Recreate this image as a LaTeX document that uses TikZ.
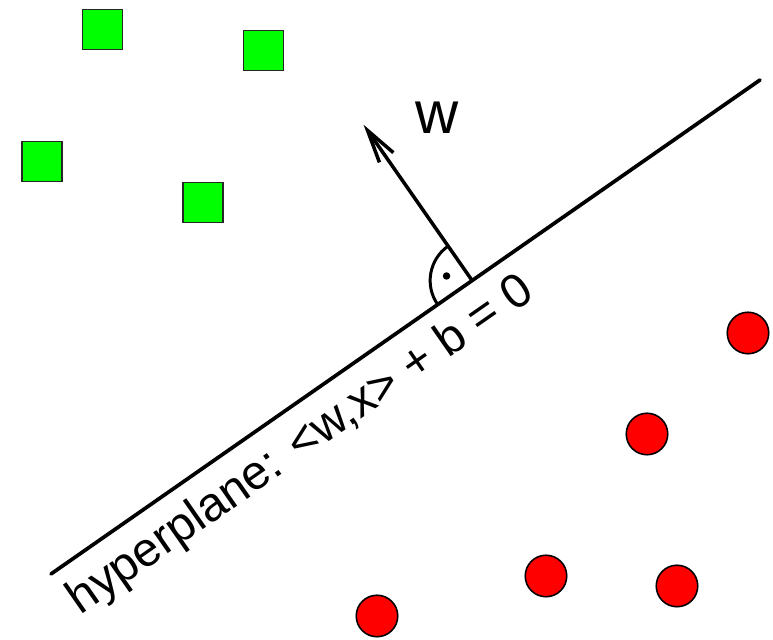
\documentclass[tikz,border=0pt]{standalone}
\usepackage{fontspec}
\setmainfont{Liberation Sans}
\usetikzlibrary{calc,arrows.meta}
\definecolor{PtGreen}{HTML}{00FF00}
\definecolor{PtRed}{HTML}{FF0000}
\definecolor{PtEdge}{HTML}{262626}

\tikzset{
  sqpt/.style={rectangle,draw=PtEdge,line width=0.9pt,fill=PtGreen,minimum size=0.80cm,inner sep=0pt},
  rdpt/.style={circle,draw=black,line width=0.9pt,fill=PtRed,minimum size=0.83cm,inner sep=0pt},
  plane/.style={line width=2.1pt,line cap=round},
  normalvec/.style={line width=2.0pt,-{Straight Barb[length=0.66cm,width=0.34cm]}}
}

\begin{document}
\begin{tikzpicture}[x=1cm,y=1cm]
\path[use as bounding box] (0,0) rectangle (15.46,12.80);
% class one
\node[sqpt] (s1) at (2.05,12.21) {};
\node[sqpt] (s2) at (5.27,11.79) {};
\node[sqpt] (s3) at (0.84,9.57) {};
\node[sqpt] (s4) at (4.06,8.75) {};
% class two
\node[rdpt] (c1) at (14.96,6.14) {};
\node[rdpt] (c2) at (12.94,4.12) {};
\node[rdpt] (c3) at (10.92,1.28) {};
\node[rdpt] (c4) at (13.54,1.08) {};
\node[rdpt] (c5) at (7.54,0.48) {};
% separating plane and its normal
\coordinate (pa) at (1.02,1.32);
\coordinate (pb) at (15.20,11.20);
\draw[plane] (pa) -- (pb);
\coordinate (foot) at ($(pa)!0.594!(pb)$);
\coordinate (tip) at ($(foot)!3.80cm!90:(pb)$);
\draw[normalvec] (foot) -- (tip);
\draw[line width=1.7pt] ($(foot)+(124.9:0.84)$) arc[start angle=124.9,end angle=214.9,radius=0.84];
\fill ($(foot)+(169.9:0.52)$) circle (0.075);
\node[inner sep=0pt] (wlab) at (8.74,10.44) {\fontsize{34}{40}\selectfont w};
\node[anchor=base west,rotate=34.87,inner sep=0pt] (hplab) at ($(pa)!1.01cm!-90:(pb)$) {\fontsize{27.3}{32}\selectfont hyperplane: <w,x> + b = 0};
\end{tikzpicture}
\end{document}
